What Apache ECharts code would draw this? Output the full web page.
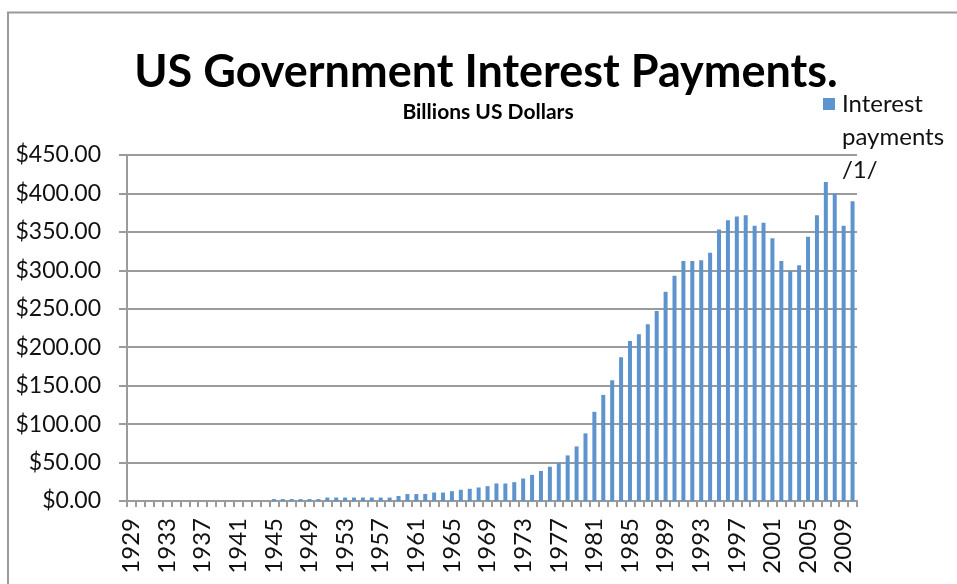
<!DOCTYPE html>
<html>
<head>
<meta charset="utf-8">
<title>US Government Interest Payments</title>
<script src="https://cdn.jsdelivr.net/npm/echarts@6/dist/echarts.min.js"></script>
<style>
  html, body { margin: 0; padding: 0; background: #fff; }
  #chart { width: 957px; height: 584px; }
</style>
</head>
<body>
<div id="chart"></div>
<script>
// Fiscal years shown on the category axis
const years = [];
for (let y = 1929; y <= 2010; y++) years.push(String(y));

// Interest payments, billions of US dollars, one value per year 1929-2010
const interestPayments = [
  0, 0, 0, 0, 0, 0, 0, 0, 0, 0,            // 1929-1938
  0, 0, 0, 0, 0, 0,                        // 1939-1944
  2.5, 2.5, 2.5, 2.5, 2.5, 2.5,            // 1945-1950
  4.5, 4.5, 4.5, 4.5, 4.5, 4.5, 4.5, 4.5,  // 1951-1958
  6.5, 9, 9, 9.2, 11, 11, 12.8, 14.6, 15.9, 17.6, 19.3,   // 1959-1969
  22.8, 22.8, 24.5, 29.3, 34, 39, 44.6, 49.3, 59.3, 71,   // 1970-1979
  88, 116, 138, 157, 187, 208, 217, 230, 247, 272,        // 1980-1989
  293, 312, 312, 313, 323, 353, 365, 370, 371.5, 358,     // 1990-1999
  362, 341.6, 312, 299, 306.5, 343.7, 371.5, 415, 400, 358, // 2000-2009
  390                                                      // 2010
];

// Value axis ticks
const yTicks = [0, 50, 100, 150, 200, 250, 300, 350, 400, 450];

const seriesName = 'Interest payments /1/';
const legendLines = ['Interest', 'payments', '/1/'];
const barColor = '#5e94cd';
const gridGray = '#9b9b9b';
const fontFamily = 'Lato, "Open Sans", sans-serif';

const chart = echarts.init(document.getElementById('chart'), null, { renderer: 'canvas' });

chart.setOption({
  animation: false,
  backgroundColor: '#ffffff',
  graphic: [
    // outer chart frame
    {
      type: 'rect',
      silent: true,
      shape: { x: 8, y: 12.5, width: 1000, height: 700 },
      style: { fill: 'none', stroke: '#9a9a9a', lineWidth: 2 }
    },
    {
      type: 'text',
      x: 486, y: 72,
      style: {
        text: 'US Government Interest Payments.',
        fontFamily: fontFamily, fontWeight: 'bold', fontSize: 45,
        fill: '#000', align: 'center', verticalAlign: 'middle'
      }
    },
    {
      type: 'text',
      x: 488, y: 112,
      style: {
        text: 'Billions US Dollars',
        fontFamily: fontFamily, fontWeight: 'bold', fontSize: 21,
        fill: '#000', align: 'center', verticalAlign: 'middle'
      }
    },
    // legend: swatch aligned with the first line of a wrapped label
    {
      type: 'rect',
      silent: true,
      shape: { x: 823, y: 98, width: 12, height: 12 },
      style: { fill: barColor }
    },
    {
      type: 'text',
      x: 842, y: 88,
      style: {
        text: legendLines.join('\n'),
        fontFamily: fontFamily, fontSize: 24, lineHeight: 33,
        fill: '#111', align: 'left', verticalAlign: 'top'
      }
    }
  ],
  grid: { left: 127, right: 100, top: 155, bottom: 83, containLabel: false },
  xAxis: {
    type: 'category',
    data: years,
    boundaryGap: true,
    axisLine: { show: true, lineStyle: { color: gridGray, width: 2 } },
    axisTick: { show: true, interval: 0, length: 6, alignWithLabel: false,
                lineStyle: { color: gridGray, width: 2 } },
    axisLabel: {
      interval: 3, rotate: 90, margin: 17,
      fontFamily: fontFamily, fontSize: 24, color: '#111'
    },
    splitLine: { show: false }
  },
  yAxis: {
    type: 'value',
    min: yTicks[0],
    max: yTicks[yTicks.length - 1],
    interval: yTicks[1] - yTicks[0],
    axisLine: { show: true, lineStyle: { color: gridGray, width: 2 } },
    axisTick: { show: true, inside: false, length: 8, lineStyle: { color: gridGray, width: 2 } },
    axisLabel: {
      margin: 26,
      fontFamily: fontFamily, fontSize: 23, color: '#111',
      formatter: v => '$' + v.toFixed(2)
    },
    splitLine: { show: true, lineStyle: { color: gridGray, width: 2 } }
  },
  series: [
    {
      name: seriesName,
      type: 'bar',
      data: interestPayments,
      barWidth: 4,
      itemStyle: { color: barColor }
    }
  ]
});
</script>
</body>
</html>
